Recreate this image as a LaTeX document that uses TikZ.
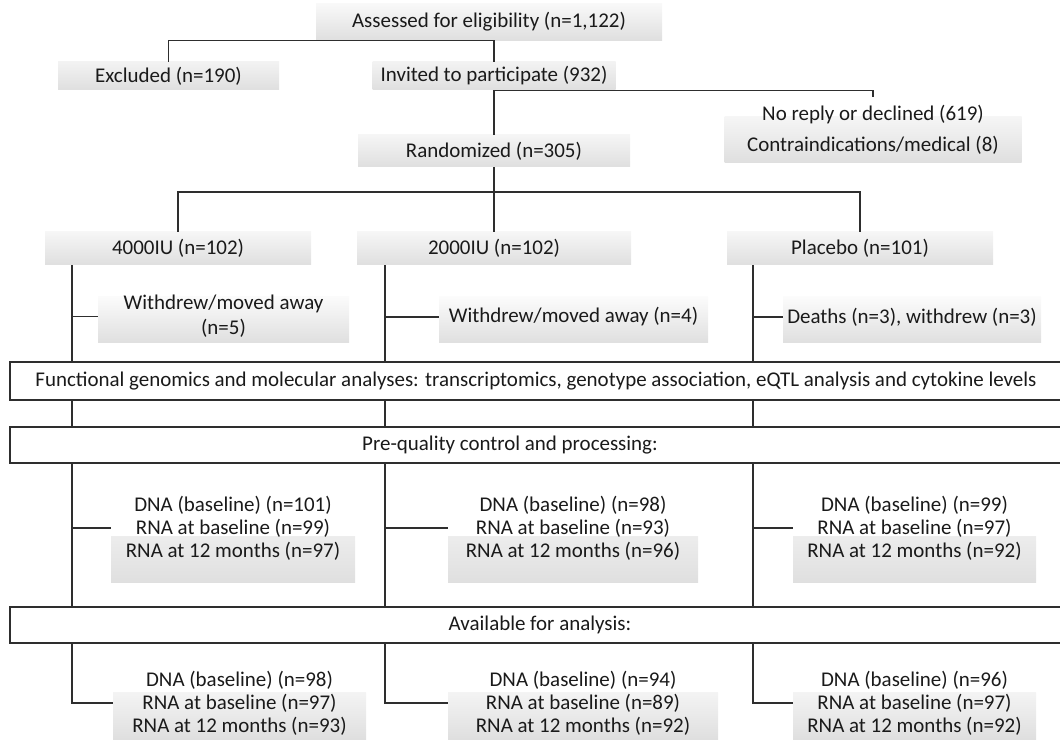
\documentclass[tikz,border=0pt]{standalone}
\usepackage{fontspec}
\setmainfont{Carlito}

\definecolor{linegray}{HTML}{2E2E2E}
\definecolor{txtgray}{HTML}{1A1A1A}
\definecolor{shadegray}{HTML}{DFDFDF}
\newcommand\flowfont{\fontsize{14.9pt}{16.4pt}\selectfont\lineskiplimit=-8pt\relax}

\begin{document}
\begin{tikzpicture}[
        x=0.025cm, y=-0.025cm,
        font=\flowfont,
        sz/.style 2 args={minimum width=#1*0.025cm, minimum height=#2*0.025cm},
        shbox/.style={inner sep=0pt, align=center, text=txtgray,
          path picture={\shade[top color=white, bottom color=shadegray]
            ([yshift=1.15cm]path picture bounding box.south west) rectangle (path picture bounding box.south east);}},
        stage/.style={draw=linegray, line width=0.9pt, inner sep=0pt, align=center, text=txtgray, sz={1060}{36}},
        conn/.style={draw=linegray, line width=0.9pt}
      ]
        \useasboundingbox (0,0) rectangle (1060,740);

        \node[shbox, sz={346}{37}] (assess) at (489,22) {Assessed for eligibility (n=1,122)};
        \node[shbox, sz={221}{28}] (excl) at (168.5,76) {Excluded (n=190)};
        \node[shbox, sz={243}{28}] (invit) at (494,76) {Invited to participate (932)};
        \node[shbox, sz={297}{66}] (noreply) at (873,130) {No reply or declined (619)\\[6pt]Contraindications/medical (8)};
        \node[shbox, sz={272}{32}] (rand) at (494,151) {Randomized (n=305)};

        \node[shbox, sz={266}{33}] (arm1) at (178,248.5) {4000IU (n=102)};
        \node[shbox, sz={274}{33}] (arm2) at (494,248.5) {2000IU (n=102)};
        \node[shbox, sz={266}{33}] (arm3) at (860,248.5) {Placebo (n=101)};

        \node[shbox, sz={251}{53}] (wd1) at (223.5,316.5) {Withdrew/moved away\\[1.5pt](n=5)};
        \node[shbox, sz={269}{52}] (wd2) at (573.5,317) {Withdrew/moved away (n=4)};
        \node[shbox, sz={258}{52}] (wd3) at (912,317) {Deaths (n=3), withdrew (n=3)};

        \node[stage, line width=1.4pt, sz={1060}{38}] (func) at (540,381) {\hspace*{-0.2cm}Functional genomics and molecular analyses: transcriptomics, genotype association, eQTL analysis and cytokine levels};
        \node[stage] (preqc) at (540,445) {\hspace*{-1.5cm}Pre-quality control and processing:};

        \node[shbox, sz={244}{110}] (dna1) at (233,528) {DNA (baseline) (n=101)\\RNA at baseline (n=99)\\RNA at 12 months (n=97)};
        \node[shbox, sz={250}{110}] (dna2) at (573,528) {DNA (baseline) (n=98)\\RNA at baseline (n=93)\\RNA at 12 months (n=96)};
        \node[shbox, sz={243}{110}] (dna3) at (914.5,528) {DNA (baseline) (n=99)\\RNA at baseline (n=97)\\RNA at 12 months (n=92)};

        \node[stage] (avail) at (540,625) {Available for analysis:};

        \node[shbox, sz={253}{72}] (fin1) at (239.5,703) {DNA (baseline) (n=98)\\RNA at baseline (n=97)\\RNA at 12 months (n=93)};
        \node[shbox, sz={270}{72}] (fin2) at (583,703) {DNA (baseline) (n=94)\\RNA at baseline (n=89)\\RNA at 12 months (n=92)};
        \node[shbox, sz={243}{72}] (fin3) at (914.5,703) {DNA (baseline) (n=96)\\RNA at baseline (n=97)\\RNA at 12 months (n=92)};

        \coordinate (rsplit) at (494,192);
        \coordinate (c1) at (72,0);
        \coordinate (c2) at (385,0);
        \coordinate (c3) at (753,0);

        \draw[conn] (excl.north) |- (assess.south) -| (invit.north);
        \draw[conn] (invit.south) -- (rand.north);
        \draw[conn] (invit.south) -| (noreply.north);
        \draw[conn] (rand.south) -- (arm2.north);
        \draw[conn] (arm1.north) |- (rsplit) -| (arm3.north);

        \foreach \c/\i in {c1/1,c2/2,c3/3} {
          \draw[conn] (arm\i.south -| \c) -- (func.north -| \c);
          \draw[conn] (wd\i.west) -- (wd\i.west -| \c);
          \draw[conn] (func.south -| \c) -- (preqc.north -| \c);
          \draw[conn] (preqc.south -| \c) -- (avail.north -| \c);
          \draw[conn] (dna\i.west) -- (dna\i.west -| \c);
          \draw[conn] (avail.south -| \c) |- (fin\i.west);
        }
      \end{tikzpicture}
\end{document}
